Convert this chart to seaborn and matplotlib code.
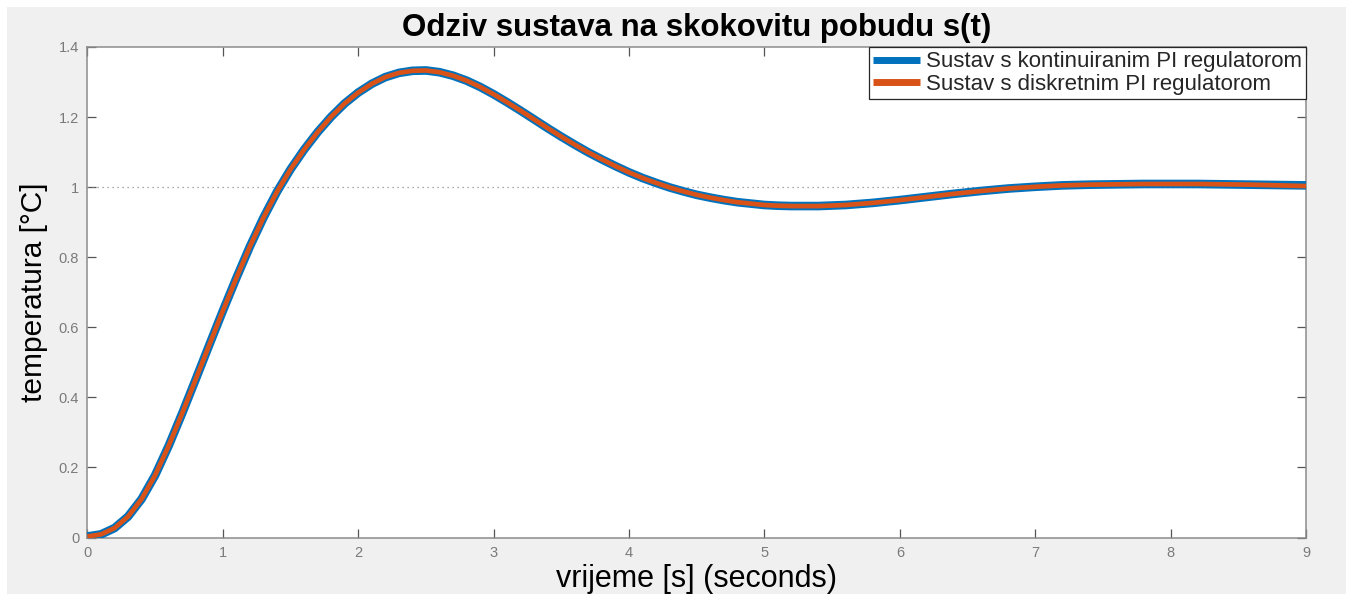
import pandas as pd
import seaborn as sns
import matplotlib.pyplot as plt
from matplotlib.patches import Rectangle

time = [0.0, 0.1, 0.2, 0.3, 0.4, 0.5, 0.6, 0.7, 0.8, 0.9,
        1.0, 1.1, 1.2, 1.3, 1.4, 1.5, 1.6, 1.7, 1.8, 1.9,
        2.0, 2.1, 2.2, 2.3, 2.4, 2.5, 2.6, 2.7, 2.8, 2.9,
        3.0, 3.1, 3.2, 3.3, 3.4, 3.5, 3.6, 3.7, 3.8, 3.9,
        4.0, 4.1, 4.2, 4.3, 4.4, 4.5, 4.6, 4.7, 4.8, 4.9,
        5.0, 5.1, 5.2, 5.4, 5.6, 5.8, 6.0, 6.2, 6.4, 6.6, 6.8,
        7.0, 7.2, 7.4, 7.6, 7.8, 8.0, 8.2, 8.4, 8.6, 8.8, 9.0]
y_cont = [0.003, 0.009, 0.027, 0.060, 0.110, 0.178, 0.262, 0.355, 0.452, 0.550,
          0.647, 0.741, 0.831, 0.913, 0.987, 1.051, 1.107, 1.157, 1.201, 1.239,
          1.270, 1.295, 1.314, 1.326, 1.332, 1.333, 1.328, 1.318, 1.304, 1.286,
          1.265, 1.242, 1.218, 1.193, 1.168, 1.144, 1.121, 1.099, 1.079, 1.060,
          1.042, 1.026, 1.012, 0.999, 0.988, 0.978, 0.970, 0.963, 0.957, 0.953,
          0.949, 0.947, 0.946, 0.946, 0.949, 0.955, 0.963, 0.972, 0.981, 0.989, 0.996,
          1.001, 1.005, 1.007, 1.008, 1.009, 1.009, 1.009, 1.008, 1.007, 1.006, 1.005]
y_disc = [0.003, 0.009, 0.027, 0.060, 0.110, 0.178, 0.262, 0.355, 0.452, 0.550,
          0.647, 0.741, 0.831, 0.913, 0.987, 1.051, 1.107, 1.157, 1.201, 1.239,
          1.270, 1.295, 1.314, 1.326, 1.332, 1.333, 1.328, 1.318, 1.304, 1.286,
          1.265, 1.242, 1.218, 1.193, 1.168, 1.144, 1.121, 1.099, 1.079, 1.060,
          1.042, 1.026, 1.012, 0.999, 0.988, 0.978, 0.970, 0.963, 0.957, 0.953,
          0.949, 0.947, 0.946, 0.946, 0.949, 0.955, 0.963, 0.972, 0.981, 0.989, 0.996,
          1.001, 1.005, 1.007, 1.008, 1.009, 1.009, 1.009, 1.008, 1.007, 1.005, 1.003]
labels = ["Sustav s kontinuiranim PI regulatorom", "Sustav s diskretnim PI regulatorom"]
x_ticks = [0, 1, 2, 3, 4, 5, 6, 7, 8, 9]
y_ticks = [0, 0.2, 0.4, 0.6, 0.8, 1.0, 1.2, 1.4]
y_tick_labels = ["0", "0.2", "0.4", "0.6", "0.8", "1", "1.2", "1.4"]

sns.set_style("ticks")
plt.rcParams["font.family"] = ["Liberation Sans", "DejaVu Sans"]

df_c = pd.DataFrame({"t": time, "y": y_cont})
df_d = pd.DataFrame({"t": time, "y": y_disc})

fig = plt.figure(figsize=(13.46, 5.94), dpi=100)
fig.patch.set_facecolor("white")
fig.patches.append(Rectangle((7 / 1346, 0), 1, 1 - 7 / 594, transform=fig.transFigure,
                             facecolor="#f0f0f0", edgecolor="none", zorder=-10))
ax = fig.add_axes([0.065, 0.0951, 0.9053, 0.8258])
ax.set_facecolor("white")

ax.axhline(1.0, color="#8c8c8c", lw=0.9, ls=(0, (1, 3)), zorder=1)

sns.lineplot(data=df_c, x="t", y="y", ax=ax, color="#0072BD", linewidth=6.2,
             label=labels[0], solid_capstyle="butt", solid_joinstyle="round", zorder=3)
sns.lineplot(data=df_d, x="t", y="y", ax=ax, color="#D95319", linewidth=3.4,
             label=labels[1], solid_capstyle="butt", solid_joinstyle="round", zorder=4)

ax.set_xlim(0, 9)
ax.set_ylim(0, 1.4)
ax.set_xticks(x_ticks)
ax.set_xticklabels([str(v) for v in x_ticks])
ax.set_yticks(y_ticks)
ax.set_yticklabels(y_tick_labels)

gray = "#7a7a7a"
for s in ax.spines.values():
    s.set_visible(True)
    s.set_color("#8c8c8c")
    s.set_linewidth(1.1)
ax.tick_params(direction="in", length=6.5, width=0.9, color="#555555",
               labelcolor=gray, labelsize=10.5, top=True, right=True, pad=6)

ax.set_xlabel("vrijeme [s] (seconds)", fontsize=22, color="black", labelpad=3)
ax.set_ylabel("temperatura [°C]", fontsize=21.5, color="black", labelpad=8)
ax.set_title("Odziv sustava na skokovitu pobudu s(t)", fontsize=22.5,
             fontweight="bold", color="black", pad=8)

leg = ax.legend(loc="upper right", fancybox=False, framealpha=1, edgecolor="#262626",
                borderaxespad=0.0, fontsize=16, handlelength=2.1, handletextpad=0.25,
                borderpad=0.2, labelspacing=0.05)
leg.get_frame().set_linewidth(0.9)
for h in leg.get_lines():
    h.set_linewidth(5)

fig.savefig("out.png", dpi=100, facecolor=fig.get_facecolor())
